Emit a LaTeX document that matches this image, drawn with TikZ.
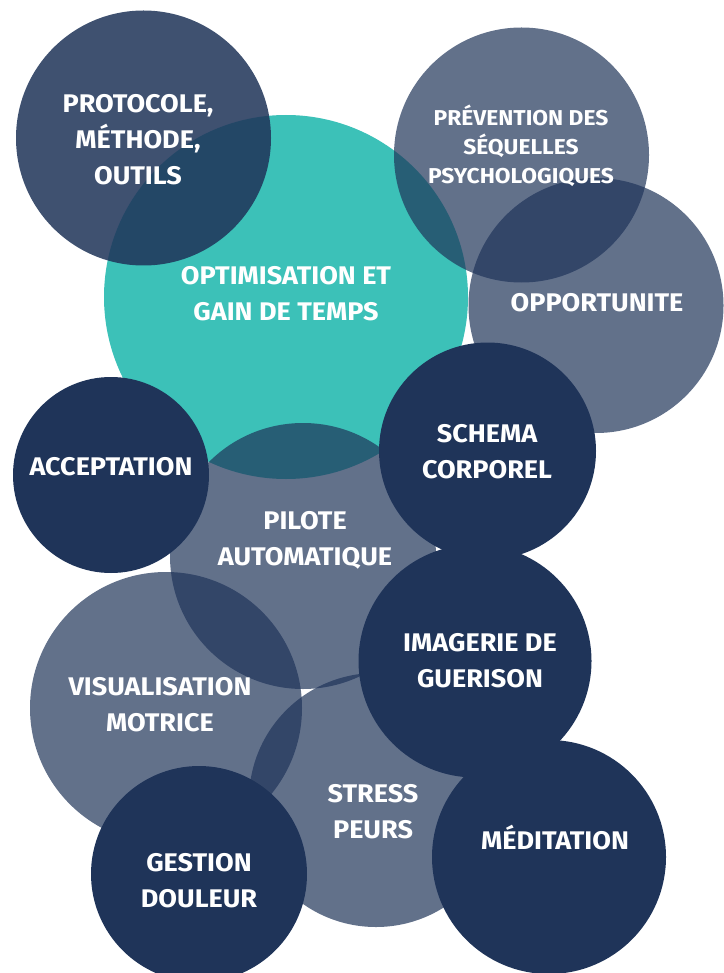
\documentclass[tikz,border=0pt]{standalone}
\usepackage{fontspec}
\setmainfont{Fira Sans}[FakeStretch=1.06]
\definecolor{navy}{HTML}{1F3459}
\definecolor{teal1}{HTML}{3CC1B8}
\begin{document}
\begin{tikzpicture}[x=1pt,y=-1pt,
  bubble/.style={circle, inner sep=0pt, draw=none, fill=navy},
  light/.style={bubble, fill opacity=0.70},
  mid/.style={bubble, fill opacity=0.86},
  solid/.style={bubble},
  lbl/.style={text=white, align=center, inner sep=0pt, font=\bfseries\fontsize{25.5}{36}\selectfont},
  lblsmall/.style={lbl, font=\bfseries\fontsize{21.5}{29}\selectfont}]
\useasboundingbox (0,0) rectangle (723,973);
% circles
\node[bubble, fill=teal1, minimum size=364pt] (opt) at (286,297) {};
\node[mid, minimum size=255pt] (proto) at (143.5,138) {};
\node[light, minimum size=255pt] (prev) at (521.5,155) {};
\node[light, minimum size=255pt] (oppo) at (596,305.5) {};
\node[light, minimum size=266pt] (pil) at (303,556) {};
\node[light, minimum size=272pt] (visu) at (166,708) {};
\node[light, minimum size=254pt] (stress) at (376,800) {};
\node[solid, minimum size=217pt] (schema) at (487.5,451) {};
\node[solid, minimum size=196pt] (acc) at (111,475) {};
\node[solid, minimum size=233pt] (imag) at (475,661) {};
\node[solid, minimum size=216pt] (gest) at (199,874) {};
\node[solid, minimum size=234pt] (medit) at (549,857) {};
% labels
\node[lbl] (tproto) at (138,140) {PROTOCOLE,\\MÉTHODE,\\OUTILS};
\node[lbl] (topt) at (286,294) {OPTIMISATION ET\\GAIN DE TEMPS};
\node[lblsmall] (tprev) at (521,146) {PRÉVENTION DES\\SÉQUELLES\\PSYCHOLOGIQUES};
\node[lbl] (toppo) at (597,303) {OPPORTUNITE};
\node[lbl] (tschema) at (487,452) {SCHEMA\\CORPOREL};
\node[lbl] (tacc) at (111,467) {ACCEPTATION};
\node[lbl] (tpil) at (305,540) {PILOTE\\AUTOMATIQUE};
\node[lbl] (tvisu) at (160,705) {VISUALISATION\\MOTRICE};
\node[lbl] (timag) at (480,661) {IMAGERIE DE\\GUERISON};
\node[lbl] (tstress) at (373,812) {STRESS\\PEURS};
\node[lbl] (tgest) at (199,881) {GESTION\\DOULEUR};
\node[lbl] (tmedit) at (555,838) {MÉDITATION};
\end{tikzpicture}
\end{document}
